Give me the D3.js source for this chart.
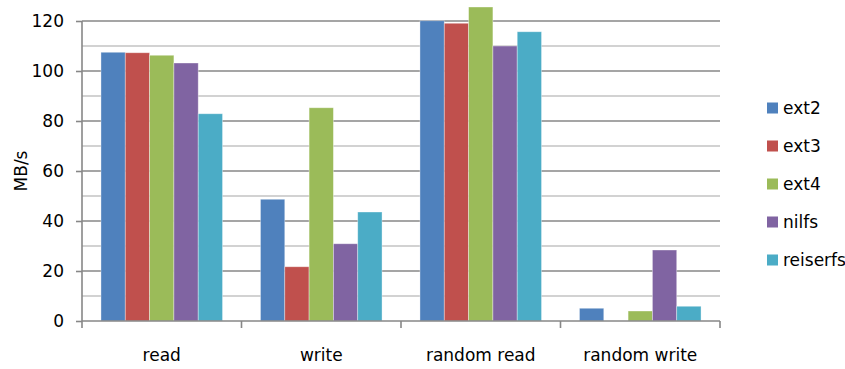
<!DOCTYPE html>
<html>
<head>
<meta charset="utf-8">
<script src="https://cdn.jsdelivr.net/npm/d3@7"></script>
<style>
  html, body { margin: 0; padding: 0; background: #fff; }
  svg { display: block; font-family: "DejaVu Sans", Verdana, sans-serif; }
</style>
</head>
<body>
<svg id="chart" width="845" height="369"></svg>
<script>
// Benchmark throughput per file system (MB/s)
const categories = ["read", "write", "random read", "random write"];
const seriesNames = ["ext2", "ext3", "ext4", "nilfs", "reiserfs"];
const seriesColors = ["#4F81BD", "#C0504D", "#9BBB59", "#8064A2", "#4BACC6"];
const ext2 = [107.5, 48.7, 120.1, 5.1];
const ext3 = [107.3, 21.7, 119.1, 0];
const ext4 = [106.3, 85.3, 125.6, 4.0];
const nilfs = [103.2, 30.9, 110.0, 28.4];
const reiserfs = [82.9, 43.6, 115.7, 5.9];
const majorTicks = [0, 20, 40, 60, 80, 100, 120];
const minorTicks = [10, 30, 50, 70, 90, 110];

const seriesValues = [ext2, ext3, ext4, nilfs, reiserfs];

const svg = d3.select("#chart");
const plotLeft = 82, plotRight = 720, plotTop = 21, plotBottom = 321;

const x = d3.scaleBand().domain(categories).range([plotLeft, plotRight]);
const xInner = d3.scaleBand().domain(seriesNames)
  .range([0, x.bandwidth()]).paddingOuter(0.78).paddingInner(0);
const y = d3.scaleLinear().domain([0, 120]).range([plotBottom, plotTop]);

// minor gridlines
svg.append("g").selectAll("line").data(minorTicks).join("line")
  .attr("x1", plotLeft).attr("x2", plotRight)
  .attr("y1", d => y(d)).attr("y2", d => y(d))
  .attr("stroke", "#c3c3c3").attr("stroke-width", 1.6);

// major gridlines
svg.append("g").selectAll("line").data(majorTicks.filter(d => d > 0)).join("line")
  .attr("x1", plotLeft).attr("x2", plotRight)
  .attr("y1", d => y(d)).attr("y2", d => y(d))
  .attr("stroke", "#878787").attr("stroke-width", 1.6);

// bars
const groups = svg.append("g").selectAll("g").data(categories).join("g")
  .attr("transform", d => `translate(${x(d)},0)`);

groups.selectAll("rect")
  .data((c, ci) => seriesNames.map((s, si) => ({ s, si, v: seriesValues[si][ci] })).filter(d => d.v > 0))
  .join("rect")
  .attr("x", d => xInner(d.s))
  .attr("width", xInner.bandwidth())
  .attr("y", d => y(d.v))
  .attr("height", d => y(0) - y(d.v))
  .attr("fill", d => seriesColors[d.si])
  .attr("stroke", "rgba(255,255,255,0.45)")
  .attr("stroke-width", 0.8);

// y axis
const yAxis = d3.axisLeft(y).tickValues(majorTicks).tickSize(6).tickPadding(12);
const gy = svg.append("g").attr("transform", `translate(${plotLeft},0)`).call(yAxis);
gy.select(".domain").attr("stroke", "#878787").attr("stroke-width", 1.6)
  .attr("d", `M0,${plotTop}V${plotBottom}`);
gy.selectAll(".tick line").attr("stroke", "#878787").attr("stroke-width", 1.6);
gy.selectAll(".tick text").attr("font-size", 17).attr("fill", "#000")
  .attr("font-family", "DejaVu Sans, sans-serif");

// x axis
const gx = svg.append("g").attr("transform", `translate(0,${plotBottom})`);
gx.append("line").attr("x1", plotLeft).attr("x2", plotRight).attr("y1", 0).attr("y2", 0)
  .attr("stroke", "#878787").attr("stroke-width", 1.6);
const boundaries = categories.map(c => x(c)).concat([plotRight]);
gx.selectAll("line.tk").data(boundaries).join("line").attr("class", "tk")
  .attr("x1", d => d).attr("x2", d => d).attr("y1", 0).attr("y2", 7)
  .attr("stroke", "#878787").attr("stroke-width", 1.6);
gx.selectAll("text").data(categories).join("text")
  .attr("x", d => x(d) + x.bandwidth() / 2)
  .attr("y", 40)
  .attr("text-anchor", "middle")
  .attr("font-size", 17)
  .attr("fill", "#000")
  .text(d => d);

// y axis title
svg.append("text")
  .attr("transform", `translate(27,${(plotTop + plotBottom) / 2}) rotate(-90)`)
  .attr("text-anchor", "middle")
  .attr("font-size", 17)
  .attr("fill", "#000")
  .text("MB/s");

// legend
const legend = svg.append("g").selectAll("g").data(seriesNames).join("g")
  .attr("transform", (d, i) => `translate(767,${108 + i * 38})`);
legend.append("rect").attr("x", 0).attr("y", -5.5).attr("width", 11).attr("height", 11)
  .attr("fill", (d, i) => seriesColors[i]);
legend.append("text").attr("x", 16).attr("y", 6)
  .attr("font-size", 17).attr("fill", "#000").text(d => d);
</script>
</body>
</html>
